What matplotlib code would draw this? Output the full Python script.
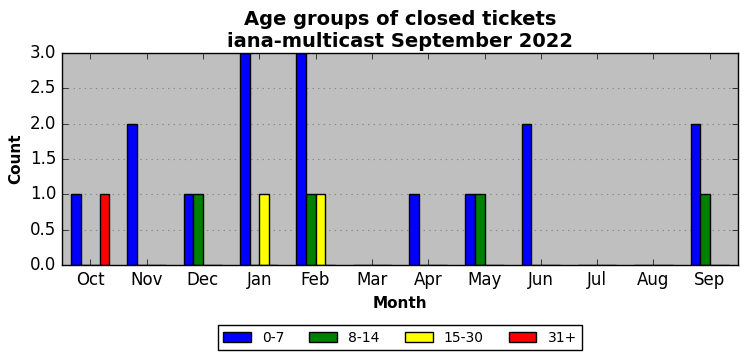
import matplotlib
matplotlib.use("Agg")
import matplotlib.pyplot as plt
import numpy as np

plt.style.use("classic")

months = ["Oct", "Nov", "Dec", "Jan", "Feb", "Mar", "Apr", "May", "Jun", "Jul", "Aug", "Sep"]
s_0_7 = [1, 2, 1, 3, 3, 0, 1, 1, 2, 0, 0, 2]
s_8_14 = [0, 0, 1, 0, 1, 0, 0, 1, 0, 0, 0, 1]
s_15_30 = [0, 0, 0, 1, 1, 0, 0, 0, 0, 0, 0, 0]
s_31 = [1, 0, 0, 0, 0, 0, 0, 0, 0, 0, 0, 0]
series = [("0-7", s_0_7, "blue"), ("8-14", s_8_14, "green"),
          ("15-30", s_15_30, "yellow"), ("31+", s_31, "red")]

fig = plt.figure(figsize=(7.47, 3.61), dpi=100, facecolor="white")
ax = fig.add_axes([62/747, 1-265/361, (738-62)/747, (265-53)/361])
ax.set_facecolor("#bfbfbf")

x = np.arange(len(months))
w = 0.17
for i, (lab, vals, col) in enumerate(series):
    ax.bar(x + (i - 1.5) * w, vals, w, color=col, edgecolor="black", linewidth=1, label=lab, align="center")

ax.set_xlim(-0.5, len(months) - 0.5)
ax.set_ylim(0, 3.0)
ax.set_yticks(np.arange(0, 3.01, 0.5))
ax.set_xticks(x)
ax.set_xticklabels(months)
ax.tick_params(labelsize=12)
ax.yaxis.grid(True, linestyle=":", color="#888888", linewidth=0.8)
ax.set_axisbelow(True)
ax.set_xlabel("Month", fontsize=11, fontweight="bold")
ax.set_ylabel("Count", fontsize=11, fontweight="bold")
ax.set_title("Age groups of closed tickets\niana-multicast September 2022", fontsize=14, fontweight="bold", y=0.995)

fig.legend(loc="lower center", bbox_to_anchor=(400/747, 0.01), ncol=4, fontsize=10,
           frameon=True, fancybox=False, columnspacing=1.8)

fig.savefig("out.png", dpi=100, facecolor="white")
